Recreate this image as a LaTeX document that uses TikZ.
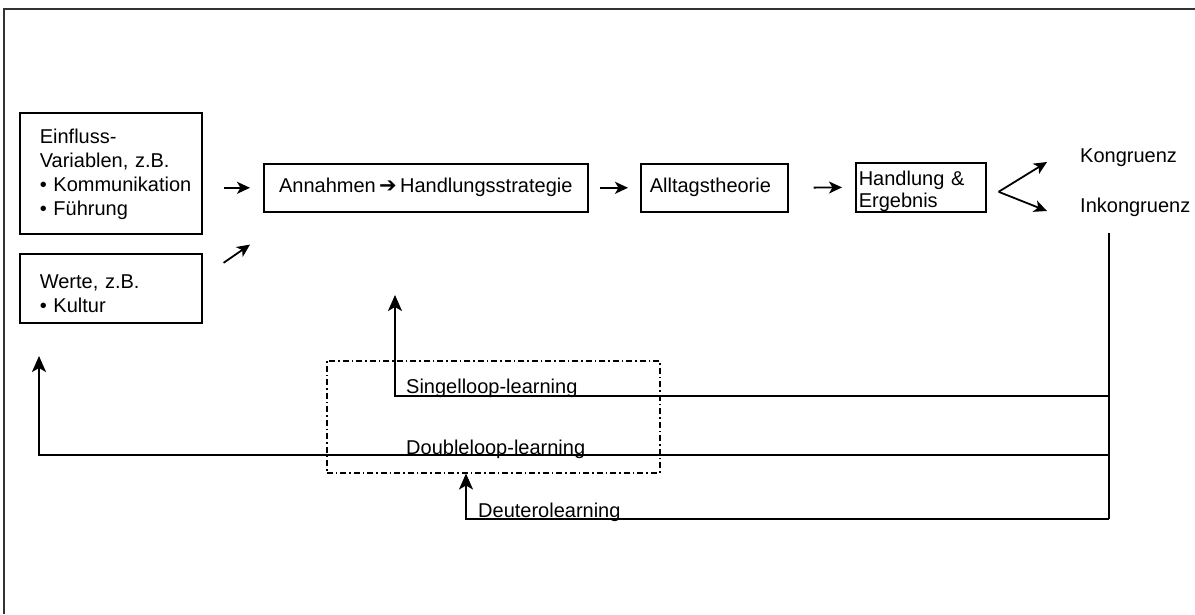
\documentclass[tikz,border=0pt]{standalone}
\usepackage{fontspec}
\setmainfont{Liberation Sans}
\newfontfamily\symfont{DejaVu Sans}
\usetikzlibrary{arrows.meta}

\tikzset{
  txt/.style={font=\fontsize{20}{24}\selectfont},
  box/.style={txt, draw, line width=1.6pt, align=left, inner ysep=0pt},
  arr/.style={line width=1.8pt, -{Stealth[length=13pt,width=12pt,inset=3.5pt]}},
  loopline/.style={line width=2pt},
  looparr/.style={line width=2pt, -{Stealth[length=16pt,width=14pt,inset=4pt]}},
  label/.style={txt, inner sep=0pt, anchor=base west},
  dashdot/.style={line width=1.5pt, dash pattern=on 6pt off 3pt on 1.5pt off 3pt},
}

\begin{document}
\begin{tikzpicture}[x=1pt, y=-1pt]
  \useasboundingbox (0,0) rectangle (1195,614);

  % outer frame (only top and left edges fall inside the page)
  \draw[line width=1.5pt, black!80] (4,614) -- (4,9) -- (1195,9);

  % input boxes
  \node[box, anchor=north west, text width=142pt, inner xsep=20pt, minimum height=121pt]
    (einfluss) at (19,112)
    {\rule{0pt}{17pt}Einfluss-\\Variablen, z.B.\\\mbox{• Kommunikation}\\• Führung};
  \node[box, anchor=north west, text width=142pt, inner xsep=20pt, minimum height=69pt]
    (werte) at (19,253)
    {\rule{0pt}{24pt}Werte, z.B.\\• Kultur};

  % main chain
  \node[box, anchor=north west, minimum width=324pt, minimum height=48pt, inner xsep=4pt]
    (annahmen) at (263,163)
    {Annahmen\,{\symfont\fontsize{21}{24}\selectfont ➔}\,Handlungsstrategie};
  \node[box, anchor=north west, text width=129pt, inner xsep=9pt, minimum height=48pt]
    (alltag) at (640,163)
    {Alltagstheorie};
  \node[box, anchor=north west, text width=124pt, inner xsep=3pt, minimum height=49pt,
        font=\fontsize{20}{22}\selectfont]
    (handlung) at (855,162)
    {\rule{0pt}{22pt}Handlung \&\\Ergebnis};

  % outcomes
  \node[label] (kongruenz) at (1080,162) {Kongruenz};
  \node[label] (inkongruenz) at (1080,212) {Inkongruenz};

  % arrows between the boxes
  \draw[arr, shorten <=21pt, shorten >=13pt] (einfluss.east |- annahmen.west) -- (annahmen.west);
  \draw[arr] ([shift={(21,-25.5)}]werte.east) -- ([shift={(-13,32)}]annahmen.south west);
  \draw[arr, shorten <=11pt, shorten >=12pt] (annahmen.east) -- (alltag.west);
  \draw[arr, shorten <=25pt, shorten >=13pt] (alltag.east) -- (handlung.west);
  \draw[arr] ([shift={(12,4.5)}]handlung.east) -- ([shift={(-33,0)}]kongruenz.base west);
  \draw[arr] ([shift={(12,4.5)}]handlung.east) -- ([shift={(-33,-1)}]inkongruenz.base west);

  % dash-dotted frame around the loop labels
  \node[dashdot, draw, anchor=north west, minimum width=333pt, minimum height=112pt, inner sep=0pt]
    (loopbox) at (326,360) {};

  % feedback loops
  \coordinate (tap) at (1109,233);
  \coordinate (scorner) at (395,396);
  \coordinate (stip) at (395,295);
  \coordinate (dcorner) at (39,455);
  \coordinate (dtip) at (39,356);
  \coordinate (ucorner) at (466,519);

  \draw[loopline] (tap) -- (tap |- ucorner);
  \draw[looparr] (tap |- scorner) -- (scorner) -- (stip);
  \draw[looparr] (tap |- dcorner) -- (dcorner) -- (dtip);
  \draw[looparr] (tap |- ucorner) -- (ucorner) -- (ucorner |- loopbox.south);

  % loop labels
  \node[label] (single) at (406,393) {Singelloop-learning};
  \node[label] (double) at (406,454) {Doubleloop-learning};
  \node[label] (deutero) at (478,517) {Deuterolearning};
\end{tikzpicture}
\end{document}
